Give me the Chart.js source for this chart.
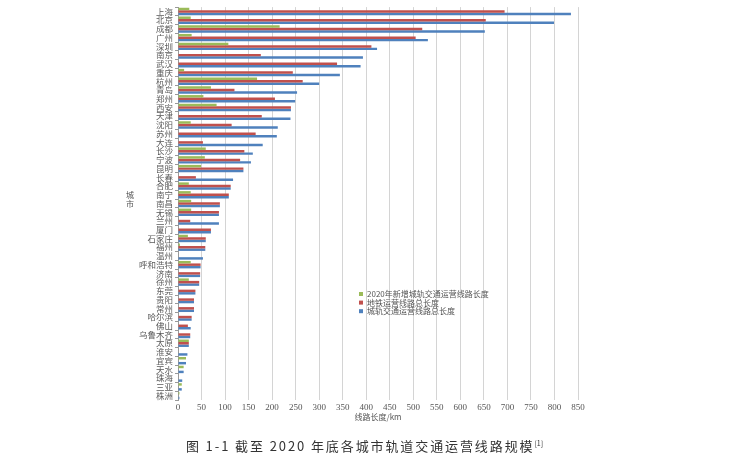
<!DOCTYPE html>
<html>
<head>
<meta charset="utf-8">
<script src="https://cdn.jsdelivr.net/npm/chart.js@4/dist/chart.umd.min.js"></script>
<style>
  body { margin: 0; background: #fff; }
  #wrap { position: relative; width: 729px; height: 466px; }
  #caption {
    position: absolute; left: 0; width: 729px; top: 436px;
    text-align: center; font-family: "Noto Sans CJK SC", "Liberation Serif", serif;
    font-size: 13px; letter-spacing: 1.9px; color: #333;
  }
  #caption sup { font-size: 7px; letter-spacing: 0; }
</style>
</head>
<body>
<div id="wrap">
  <canvas id="chart" width="729" height="466"></canvas>
  <div id="caption">图 1-1 截至 2020 年底各城市轨道交通运营线路规模<sup>[1]</sup></div>
</div>
<script>
const cities = ['上海','北京','成都','广州','深圳','南京','武汉','重庆','杭州','青岛','郑州','西安','天津','沈阳','苏州','大连','长沙','宁波','昆明','长春','合肥','南宁','南昌','无锡','兰州','厦门','石家庄','福州','温州','呼和浩特','济南','徐州','东莞','贵阳','常州','哈尔滨','佛山','乌鲁木齐','太原','淮安','宜宾','天水','珠海','三亚','株洲'];

// 2020年新增城轨交通运营线路长度
const newLen = [24,27,216,29,107,0,0,13,168,70,54,82,0,27,0,0,59,57,49,0,23,27,28,28,0,0,21,4,0,27,0,23,0,0,0,0,0,0,23,0,17,12,0,8,3];
// 地铁运营线路总长度
const metroLen = [694,654,519,505,411,176,338,244,265,120,206,240,178,114,165,53,141,132,139,38,112,108,89,87,26,70,59,58,0,48,47,45,37,34,34,29,21,26,23,0,0,0,0,0,0];
// 城轨交通运营线路总长度
const railLen = [835,799,652,531,423,393,388,344,300,253,249,240,239,212,210,180,159,155,139,117,112,108,89,87,87,70,59,58,53,48,47,45,37,34,34,29,27,26,23,20,17,12,9,8,3];

const seriesNames = ['2020年新增城轨交通运营线路长度', '地铁运营线路总长度', '城轨交通运营线路总长度'];
const colors = ['#9BBB59', '#C0504D', '#4F81BD'];

const cjk = '"Noto Sans CJK SC", sans-serif';

// legend + stacked y title drawn by hand
const extras = {
  id: 'extras',
  afterDraw(chart) {
    const ctx = chart.ctx;
    ctx.save();
    ctx.font = '8px ' + cjk;
    ctx.textBaseline = 'middle';
    ctx.textAlign = 'left';
    const lx = 359, ly = 294;
    seriesNames.forEach((name, i) => {
      ctx.fillStyle = colors[i];
      ctx.fillRect(lx, ly + i * 8.6 - 2, 4, 4);
      ctx.fillStyle = '#555';
      ctx.fillText(name, lx + 8, ly + i * 8.6);
    });
    ctx.textAlign = 'center';
    ctx.fillText('城', 130, 195);
    ctx.fillText('市', 130, 204);
    ctx.restore();
  }
};

new Chart(document.getElementById('chart'), {
  type: 'bar',
  data: {
    labels: cities,
    datasets: [newLen, metroLen, railLen].map((d, i) => ({
      label: seriesNames[i],
      data: d,
      backgroundColor: colors[i],
      categoryPercentage: 0.85,
      barPercentage: 1.0,
    })),
  },
  options: {
    indexAxis: 'y',
    responsive: false,
    animation: false,
    layout: { padding: { left: 138, right: 151, top: 4, bottom: 44 } },
    plugins: { legend: { display: false }, tooltip: { enabled: false } },
    scales: {
      x: {
        min: 0, max: 850,
        ticks: { stepSize: 50, font: { family: '"Liberation Serif", serif', size: 9 }, color: '#555', padding: 2 },
        grid: { color: '#d4d4d4', drawTicks: false },
        border: { display: false },
        title: { display: true, text: '线路长度/km', font: { family: cjk, size: 8 }, color: '#555', padding: 0 },
        afterFit(s) { s.height = 22; },
      },
      y: {
        ticks: { font: { family: cjk, size: 8.5 }, color: '#5a5a5a', padding: 2, autoSkip: false },
        grid: { drawOnChartArea: false, tickLength: 3, color: '#999' },
        border: { color: '#999' },
        afterFit(s) { s.width = 40; },
      },
    },
  },
  plugins: [extras],
});
</script>
</body>
</html>
